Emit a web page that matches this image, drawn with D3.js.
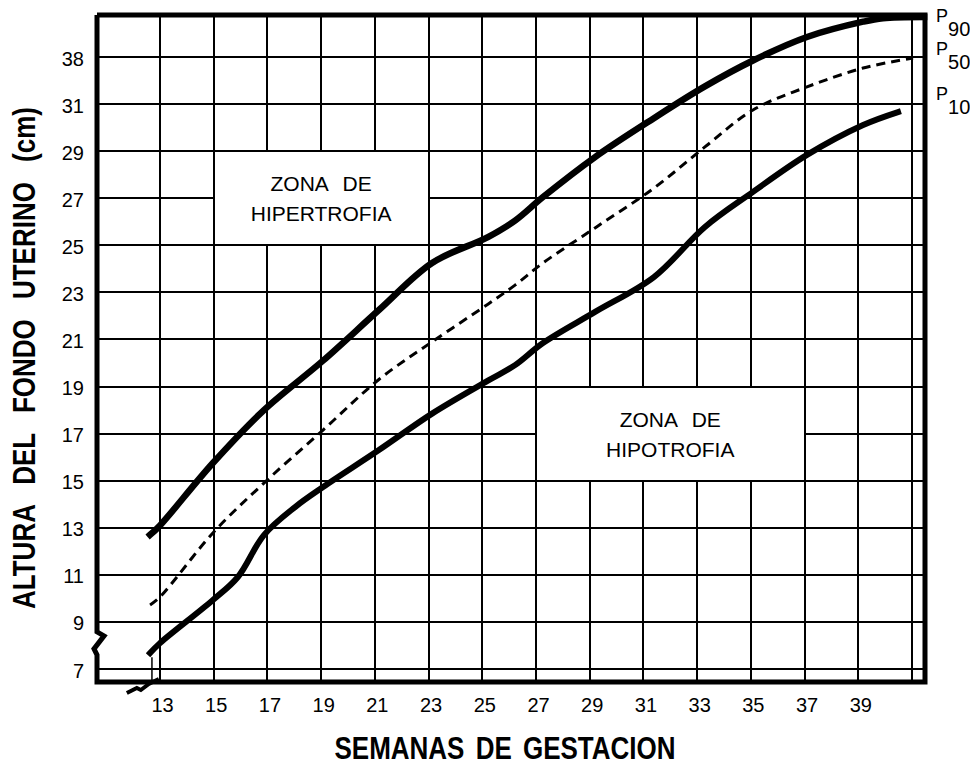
<!DOCTYPE html>
<html><head><meta charset="utf-8">
<script src="https://cdn.jsdelivr.net/npm/d3@7"></script>
<style>
html,body{margin:0;padding:0;background:#fff;}
svg{display:block;font-family:"Liberation Sans",Arial,sans-serif;}
</style></head><body>
<svg id="chart" width="970" height="766"></svg>
<script>
// ---------- DATA ----------
const gridWeeks = [13,15,17,19,21,23,25,27,29,31,33,35,37,39,41];
const weekTicks = [13,15,17,19,21,23,25,27,29,31,33,35,37,39];
const weekTickLabels = ["13","15","17","19","21","23","25","27","29","31","33","35","37","39"];
const heightTicks = [7,9,11,13,15,17,19,21,23,25,27,29,31,33];
const heightTickLabels = ["7","9","11","13","15","17","19","21","23","25","27","29","31","38"];

const p90Weeks  = [12.63,13.0,14.97,16.87,19.07,21.15,23.13,25.21,26.22,27.26,29.2,31.39,33.29,35.08,37.09,39.18,39.92,41.45];
const p90Values = [12.7,13.1,15.75,18.0,20.1,22.25,24.25,25.35,26.05,27.05,28.75,30.4,31.75,32.85,33.85,34.5,34.65,34.7];

const p50Weeks  = [12.63,13.0,14.97,16.87,19.07,21.15,23.13,25.21,26.22,27.26,29.2,31.39,33.29,35.08,37.09,39.18,41.04];
const p50Values = [9.72,10.06,12.78,14.9,17.15,19.3,20.9,22.5,23.31,24.25,25.74,27.43,29.18,30.75,31.73,32.53,32.96];

const p10Weeks  = [12.63,13.0,14.97,15.9,16.87,18.03,19.07,21.15,23.13,25.21,26.22,27.26,29.2,31.39,33.29,35.08,37.09,39.18,40.48];
const p10Values = [7.68,8.1,9.93,10.91,12.69,13.88,14.73,16.3,17.85,19.25,19.91,20.85,22.17,23.65,25.78,27.27,28.84,30.11,30.66];

const seriesNames = ["P90","P50","P10"];
const seriesLabelValues = [34.49,33.09,31.17];

const zoneLines = [["ZONA DE","HIPERTROFIA"],["ZONA DE","HIPOTROFIA"]];
const zoneWeeks = [[15,23],[27,37]];
const zoneHeights = [[25,29],[15,19]];

const xTitle = "SEMANAS DE GESTACION";
const yTitle = "ALTURA DEL FONDO UTERINO (cm)";

// ---------- LAYOUT ----------
const svg = d3.select("#chart");
const frame = {left:97, right:925, top:15, bottom:682};
const x = d3.scaleLinear().domain([13,41]).range([160,912]);
const y = d3.scaleLinear().domain([7,33]).range([669,57]);

// grid
const grid = svg.append("g").attr("stroke","#000").attr("stroke-width",2).attr("shape-rendering","crispEdges");
grid.selectAll("line.v").data(gridWeeks).join("line").attr("class","v")
  .attr("x1",d=>x(d)).attr("x2",d=>x(d)).attr("y1",frame.top).attr("y2",frame.bottom);
grid.selectAll("line.h").data(heightTicks).join("line").attr("class","h")
  .attr("x1",frame.left).attr("x2",frame.right).attr("y1",d=>y(d)).attr("y2",d=>y(d));

// zone boxes
zoneLines.forEach((lines,i)=>{
  const x0=x(zoneWeeks[i][0]), x1=x(zoneWeeks[i][1]);
  const y0=y(zoneHeights[i][1]), y1=y(zoneHeights[i][0]);
  svg.append("rect").attr("x",x0).attr("y",y0).attr("width",x1-x0).attr("height",y1-y0)
    .attr("fill","#fff").attr("stroke","#000").attr("stroke-width",2).attr("shape-rendering","crispEdges");
  const cx=(x0+x1)/2, cy=(y0+y1)/2;
  const t = svg.append("text").attr("text-anchor","middle").attr("font-size",21).attr("fill","#000")
    .attr("word-spacing",9);
  lines.forEach((s,j)=>{
    t.append("tspan").attr("x",cx).attr("y",cy + (j===0 ? -7 : 23)).text(s);
  });
});

// curves
const line = d3.line().x(d=>x(d[0])).y(d=>y(d[1])).curve(d3.curveCatmullRom.alpha(0.5));
const p90 = p90Weeks.map((w,i)=>[w,p90Values[i]]);
const p50 = p50Weeks.map((w,i)=>[w,p50Values[i]]);
const p10 = p10Weeks.map((w,i)=>[w,p10Values[i]]);
svg.append("path").datum(p90).attr("d",line).attr("fill","none").attr("stroke","#000")
  .attr("stroke-width",6.5).attr("stroke-linecap","square");
svg.append("path").datum(p10).attr("d",line).attr("fill","none").attr("stroke","#000")
  .attr("stroke-width",6).attr("stroke-linecap","square");
svg.append("path").datum(p50).attr("d",line).attr("fill","none").attr("stroke","#000")
  .attr("stroke-width",3).attr("stroke-dasharray","9,6");

// frame with break marks
const fr = svg.append("g").attr("fill","none").attr("stroke","#000").attr("stroke-width",5)
  .attr("stroke-linejoin","miter");
fr.append("path").attr("d",
  `M${frame.left},${frame.top} H${frame.right} V${frame.bottom} H${frame.left} V${y(7.6)} l-3,-6 l10,-13 l-7,-4 V${frame.top}`);
// bottom break
svg.append("path").attr("d",`M${x(12.1)-9},${frame.bottom+11} l10,-5 l4,2 l8,-6 l10,-5`)
  .attr("fill","none").attr("stroke","#000").attr("stroke-width",4);
svg.append("line").attr("x1",x(12.7)).attr("x2",x(12.7)).attr("y1",y(7.5)).attr("y2",frame.bottom)
  .attr("stroke","#000").attr("stroke-width",1.5);

// axes
const yAxis = svg.append("g").attr("transform",`translate(${frame.left},0)`)
  .call(d3.axisLeft(y).tickValues(heightTicks).tickFormat((d,i)=>heightTickLabels[i]).tickSize(0).tickPadding(13));
yAxis.select(".domain").remove();
yAxis.selectAll("text").attr("font-size",20).attr("font-family","Liberation Sans, Arial, sans-serif").attr("fill","#000").attr("dy","0.4em");

const xAxis = svg.append("g").attr("transform",`translate(0,${frame.bottom})`)
  .call(d3.axisBottom(x).tickValues(weekTicks).tickFormat((d,i)=>weekTickLabels[i]).tickSize(0).tickPadding(16));
xAxis.select(".domain").remove();
xAxis.selectAll("text").attr("font-size",20).attr("font-family","Liberation Sans, Arial, sans-serif").attr("fill","#000").attr("dx",2);

// series labels at right (P with lowered number)
seriesNames.forEach((n,i)=>{
  const by = y(seriesLabelValues[i]);
  const t = svg.append("text").attr("x",frame.right+11).attr("y",by).attr("font-size",18).attr("fill","#000");
  t.append("tspan").text(n.slice(0,1));
  t.append("tspan").attr("dy",14).attr("font-size",20).text(n.slice(1));
});

// axis titles
svg.append("text").attr("transform","translate(505,759) scale(1,1.2)")
  .attr("text-anchor","middle").attr("font-weight","bold").attr("font-size",26).attr("word-spacing",4).text(xTitle);
svg.append("text").attr("transform","translate(35,358) rotate(-90) scale(1,1.2)")
  .attr("text-anchor","middle").attr("font-weight","bold").attr("font-size",26).attr("word-spacing",13).text(yTitle);
</script>
</body></html>
